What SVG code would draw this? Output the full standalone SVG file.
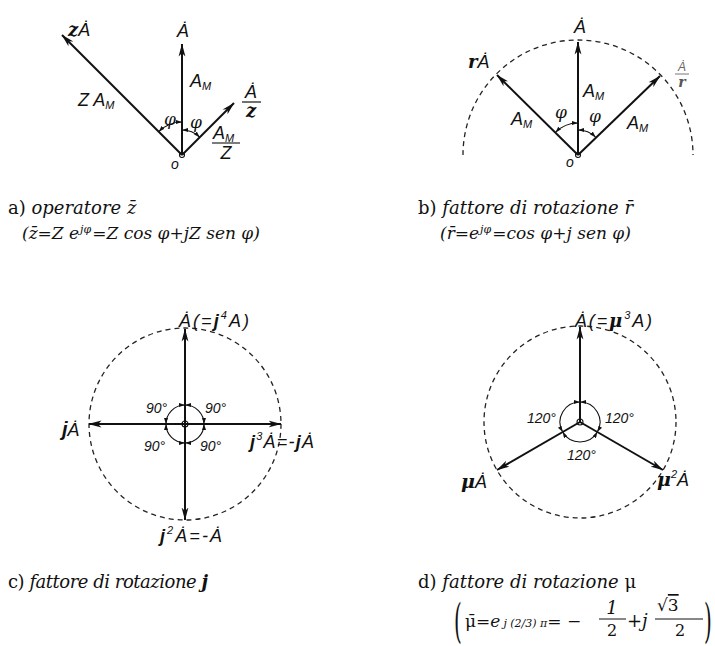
<svg xmlns="http://www.w3.org/2000/svg" width="715" height="646" viewBox="0 0 715 646">
<defs>
<style>
.vec{stroke:#111;stroke-width:2;fill:none}
.thin{stroke:#111;stroke-width:1.1;fill:none}
.dash{stroke:#222;stroke-width:1.3;fill:none;stroke-dasharray:5 4}
.lbl{font-family:"Liberation Sans","DejaVu Sans",sans-serif;font-style:italic;fill:#111}
.ser{font-family:"DejaVu Serif","Liberation Serif",serif;fill:#111}
.cap{font-family:"DejaVu Serif","Liberation Serif",serif;font-style:italic;font-size:18px;fill:#111}
.b{font-weight:bold}
</style>
<marker id="ah" viewBox="0 0 13 8" refX="12.5" refY="4" markerWidth="13" markerHeight="8" markerUnits="userSpaceOnUse" orient="auto"><path d="M0,0.6 L13,4 L0,7.4 L3.5,4 z" fill="#111"/></marker>
<marker id="sa" viewBox="0 0 6 4" refX="6" refY="2" markerWidth="6" markerHeight="4" markerUnits="userSpaceOnUse" orient="auto-start-reverse"><path d="M0,0 L6,2 L0,4 z" fill="#111"/></marker>
</defs>

<!-- Panel a -->
<g id="panel-a">
<g id="a-connectors">
<line class="vec" x1="182" y1="155" x2="182" y2="44" marker-end="url(#ah)"/>
<line class="vec" x1="182" y1="155" x2="62" y2="35" marker-end="url(#ah)"/>
<line class="vec" x1="182" y1="155" x2="234" y2="103" marker-end="url(#ah)"/>
<path class="thin" d="M182,122 A33,33 0 0 0 158.7,131.7" marker-start="url(#sa)" marker-end="url(#sa)"/>
<path class="thin" d="M182,130 A25,25 0 0 1 199.7,137.3" marker-start="url(#sa)" marker-end="url(#sa)"/>
<circle cx="182" cy="155" r="2.5" class="thin"/>
</g>
<g id="a-labels" class="lbl" font-size="18">
<text x="183" y="37" text-anchor="middle">Ȧ</text>
<text x="68" y="36"><tspan class="ser b" font-size="18">z</tspan>Ȧ</text>
<text x="190" y="87">A<tspan font-size="11" dy="3">M</tspan></text>
<text x="78" y="106">Z A<tspan font-size="11" dy="3">M</tspan></text>
<text x="164" y="125" class="ser" font-size="17" font-style="italic">φ</text>
<text x="190" y="128" class="ser" font-size="17" font-style="italic">φ</text>
<text x="251" y="98" text-anchor="middle">Ȧ</text>
<line x1="242" y1="102" x2="261" y2="102" stroke="#111" stroke-width="1.2"/>
<text x="251" y="117" text-anchor="middle" class="ser b" font-size="18">z</text>
<text x="213" y="139">A<tspan font-size="11" dy="3">M</tspan></text>
<line x1="212" y1="143" x2="240" y2="143" stroke="#111" stroke-width="1.1"/>
<text x="226" y="159" text-anchor="middle">Z</text>
<text x="171" y="169" font-size="14">o</text>
</g>
<g id="a-caption">
<text class="cap" x="8" y="214"><tspan font-style="normal">a)</tspan> operatore z̄</text>
<text class="cap" x="22" y="239" font-size="17" style="font-size:17px">(z̄=Z e<tspan font-size="11" style="font-size:11px" dx="1" dy="-6">jφ</tspan><tspan dx="1" dy="6">=Z cos φ+jZ sen φ)</tspan></text>
</g>
</g>

<!-- Panel b -->
<g id="panel-b">
<g id="b-connectors">
<path class="dash" d="M463,155 A115,115 0 0 1 693,155"/>
<line class="vec" x1="578" y1="155" x2="578" y2="42" marker-end="url(#ah)"/>
<line class="vec" x1="578" y1="155" x2="497" y2="75" marker-end="url(#ah)"/>
<line class="vec" x1="578" y1="155" x2="660" y2="76" marker-end="url(#ah)"/>
<path class="thin" d="M578,123 A32,32 0 0 0 555.4,132.4" marker-start="url(#sa)" marker-end="url(#sa)"/>
<path class="thin" d="M578,130 A25,25 0 0 1 595.7,137.3" marker-start="url(#sa)" marker-end="url(#sa)"/>
<circle cx="578" cy="155" r="2.5" class="thin"/>
</g>
<g id="b-labels" class="lbl" font-size="18">
<text x="580" y="33" text-anchor="middle">Ȧ</text>
<text x="468" y="68"><tspan class="ser b" font-size="18">r</tspan>Ȧ</text>
<text x="583" y="97">A<tspan font-size="11" dy="3">M</tspan></text>
<text x="511" y="125">A<tspan font-size="11" dy="3">M</tspan></text>
<text x="627" y="129">A<tspan font-size="11" dy="3">M</tspan></text>
<text x="555" y="118" class="ser" font-size="17" font-style="italic">φ</text>
<text x="589" y="122" class="ser" font-size="17" font-style="italic">φ</text>
<text x="682" y="71" text-anchor="middle" font-size="12" style="fill:#666">Ȧ</text>
<line x1="675" y1="74" x2="689" y2="74" stroke="#777" stroke-width="1"/>
<text x="682" y="87" text-anchor="middle" class="ser b" font-size="14" style="fill:#555">r</text>
<text x="566" y="167" font-size="14">o</text>
</g>
<g id="b-caption">
<text class="cap" x="418" y="214"><tspan font-style="normal">b)</tspan> fattore di rotazione r̄</text>
<text class="cap" x="440" y="239" style="font-size:17px">(r̄=e<tspan style="font-size:11px" dx="1" dy="-6">jφ</tspan><tspan dx="1" dy="6">=cos φ+j sen φ)</tspan></text>
</g>
</g>

<!-- Panel c -->
<g id="panel-c">
<g id="c-connectors">
<circle class="dash" cx="185" cy="424" r="96"/>
<line class="vec" x1="185" y1="424" x2="185" y2="329" marker-end="url(#ah)"/>
<line class="vec" x1="185" y1="424" x2="89" y2="424" marker-end="url(#ah)"/>
<line class="vec" x1="185" y1="424" x2="281" y2="424" marker-end="url(#ah)"/>
<line class="vec" x1="185" y1="424" x2="185" y2="520" marker-end="url(#ah)"/>
<path class="thin" d="M185,405 A19,19 0 0 1 204,424" marker-start="url(#sa)" marker-end="url(#sa)"/>
<path class="thin" d="M204,424 A19,19 0 0 1 185,443" marker-start="url(#sa)" marker-end="url(#sa)"/>
<path class="thin" d="M185,443 A19,19 0 0 1 166,424" marker-start="url(#sa)" marker-end="url(#sa)"/>
<path class="thin" d="M166,424 A19,19 0 0 1 185,405" marker-start="url(#sa)" marker-end="url(#sa)"/>
<circle cx="185" cy="424" r="3" class="thin"/>
</g>
<g id="c-labels" class="lbl" font-size="18">
<text x="179" y="327" textLength="70" lengthAdjust="spacing">Ȧ(=<tspan class="b">j</tspan><tspan font-size="11" dy="-8">4</tspan><tspan dy="8">A)</tspan></text>
<text x="62" y="436"><tspan class="b" font-size="20">j</tspan>Ȧ</text>
<text x="250" y="448" textLength="64" lengthAdjust="spacing"><tspan class="b">j</tspan><tspan font-size="11" dy="-8">3</tspan><tspan dy="8">Ȧ=-</tspan><tspan class="b">j</tspan>Ȧ</text>
<text x="160" y="542" textLength="62" lengthAdjust="spacing"><tspan class="b">j</tspan><tspan font-size="11" dy="-8">2</tspan><tspan dy="8">Ȧ=-Ȧ</tspan></text>
<text x="146" y="413" font-size="14">90°</text>
<text x="205" y="413" font-size="14">90°</text>
<text x="144" y="451" font-size="14">90°</text>
<text x="200" y="451" font-size="14">90°</text>
</g>
<g id="c-caption">
<text class="cap" x="8" y="588" textLength="200" lengthAdjust="spacing"><tspan font-style="normal">c)</tspan> fattore di rotazione <tspan class="b">j</tspan></text>
</g>
</g>

<!-- Panel d -->
<g id="panel-d">
<g id="d-connectors">
<circle class="dash" cx="580" cy="422" r="96"/>
<line class="vec" x1="580" y1="422" x2="580" y2="327" marker-end="url(#ah)"/>
<line class="vec" x1="580" y1="422" x2="497" y2="470" marker-end="url(#ah)"/>
<line class="vec" x1="580" y1="422" x2="663" y2="470" marker-end="url(#ah)"/>
<path class="thin" d="M580,402 A20,20 0 0 1 597.3,432" marker-start="url(#sa)" marker-end="url(#sa)"/>
<path class="thin" d="M597.3,432 A20,20 0 0 1 562.7,432" marker-start="url(#sa)" marker-end="url(#sa)"/>
<path class="thin" d="M562.7,432 A20,20 0 0 1 580,402" marker-start="url(#sa)" marker-end="url(#sa)"/>
<circle cx="580" cy="422" r="3" class="thin"/>
</g>
<g id="d-labels" class="lbl" font-size="18">
<text x="575" y="327" textLength="77" lengthAdjust="spacing">Ȧ(=<tspan class="ser b" font-size="18">μ</tspan><tspan font-size="11" dy="-8">3</tspan><tspan dy="8">A)</tspan></text>
<text x="461" y="488"><tspan class="ser b" font-size="19">μ</tspan>Ȧ</text>
<text x="657" y="486"><tspan class="ser b" font-size="19">μ</tspan><tspan font-size="11" dy="-8">2</tspan><tspan dy="8">Ȧ</tspan></text>
<text x="527" y="423" font-size="14">120°</text>
<text x="605" y="423" font-size="14">120°</text>
<text x="567" y="460" font-size="14">120°</text>
</g>
<g id="d-caption">
<text class="cap" x="418" y="588"><tspan font-style="normal">d)</tspan> fattore di rotazione <tspan font-style="normal">μ</tspan></text>
<text class="ser" transform="translate(454,637) scale(1,2.3)" font-size="20">(</text>
<text class="ser" transform="translate(704,637) scale(1,2.3)" font-size="20">)</text>
<text class="cap" x="465" y="627" style="font-size:17px"><tspan font-style="normal">μ̄</tspan>=e<tspan style="font-size:11px" dx="3">j (2/3) π</tspan>= −</text>
<text class="cap" x="612" y="614" text-anchor="middle" font-size="16">1</text>
<line x1="599" y1="619" x2="626" y2="619" stroke="#111" stroke-width="1"/>
<text class="ser" x="612" y="636" text-anchor="middle" font-size="16">2</text>
<text class="cap" x="627" y="627">+j</text>
<text class="ser" x="657" y="611" font-size="17">√<tspan text-decoration="overline">3</tspan></text>
<line x1="655" y1="619" x2="703" y2="619" stroke="#111" stroke-width="1"/>
<text class="ser" x="680" y="636" text-anchor="middle" font-size="16">2</text>
</g>
</g>
</svg>
